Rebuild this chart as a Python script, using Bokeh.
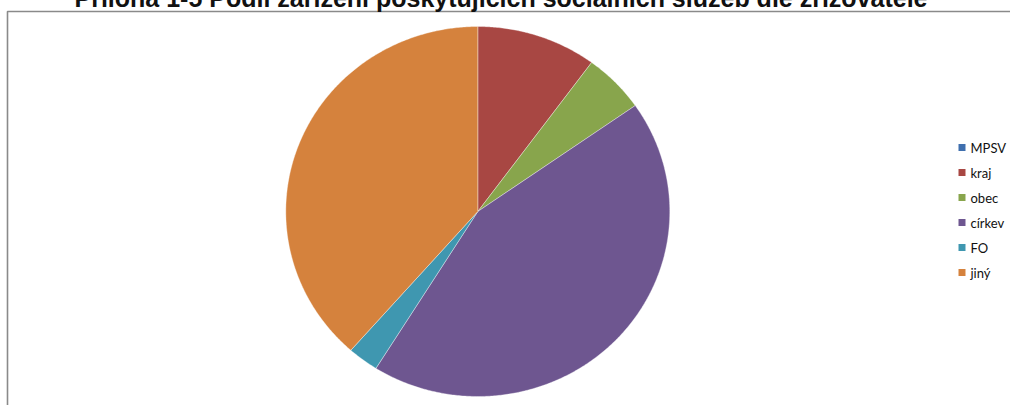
import numpy as np
from bokeh.plotting import figure
from bokeh.models import Range1d, ColumnDataSource
from bokeh.core.properties import value
from bokeh.embed import file_html
from bokeh.resources import INLINE

title_text = "Příloha 1-5 Podíl zařízení poskytujících sociálních služeb dle zřizovatele"
categories = ["MPSV", "kraj", "obec", "církev", "FO", "jiný"]
shares = [0.0, 10.1, 5.2, 43.6, 2.6, 38.5]
colors = ["#3F6FAE", "#A84743", "#88A54C", "#6E5690", "#3F97B0", "#D5823D"]

W, H = 1010, 425
p = figure(width=W, height=H, output_backend="svg", toolbar_location=None,
           x_range=Range1d(0, W), y_range=Range1d(0, H),
           min_border=0, min_border_left=0, min_border_right=0,
           min_border_top=0, min_border_bottom=0,
           outline_line_color=None, background_fill_color="white",
           border_fill_color="white",
           styles={"position": "absolute", "left": "0px", "top": "-20px"})
p.axis.visible = False
p.grid.visible = False

def Y(page_y):
    return 405 - page_y

# chart border
p.line(x=[7, 7, 1012], y=[Y(410), Y(11), Y(11)], line_color="#8a8a8a", line_width=1.6)

# title (cropped at top as in reference)
p.text(x=[500.5], y=[Y(-2.5)], text=[title_text], text_font=value("Liberation Sans"),
       text_font_style="bold", text_font_size="25px", text_color="#111111",
       text_align="center", text_baseline="alphabetic")

# pie (slightly elliptical, like the original)
cx, cy = 477.3, Y(211)
rx, ry = 192.0, 185.0
vals = np.array(shares, dtype=float)
fr = vals / vals.sum()
ends = np.cumsum(fr) * 2 * np.pi
starts = ends - fr * 2 * np.pi
xs, ys, cols = [], [], []
for s, e, c in zip(starts, ends, colors):
    if e - s <= 0:
        continue
    t = np.linspace(s, e, max(4, int((e - s) * 120)))
    xs.append([cx] + list(cx + rx * np.sin(t)) + [cx])
    ys.append([cy] + list(cy + ry * np.cos(t)) + [cy])
    cols.append(c)
src = ColumnDataSource(dict(xs=xs, ys=ys, color=cols))
p.patches("xs", "ys", source=src, fill_color="color", line_color="white",
          line_width=0.6, line_alpha=0.6)

# legend
ly = [Y(147 + 25 * i) for i in range(len(categories))]
p.scatter(x=[961.5] * len(categories), y=ly, marker="square", size=7,
          fill_color=colors, line_color=None)
p.text(x=[970] * len(categories), y=ly, text=categories, text_font=value("Lato"),
       text_font_size="13px", text_color="#111111", text_baseline="middle",
       text_align="left")

open("out.html", "w").write(file_html(p, INLINE))
